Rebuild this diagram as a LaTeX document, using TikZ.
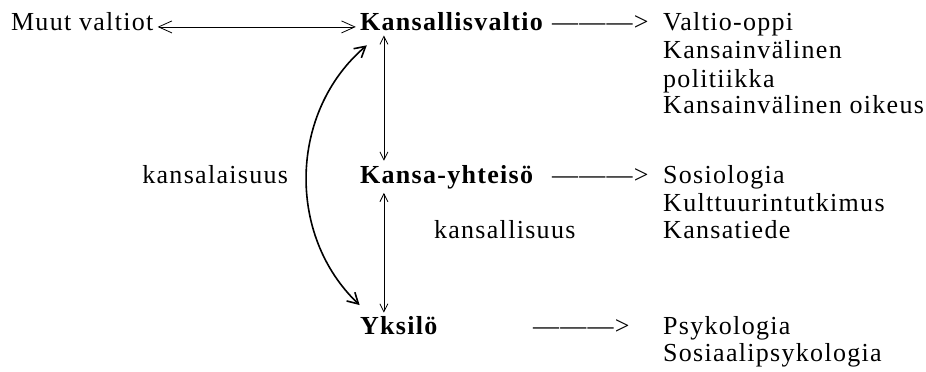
\documentclass[tikz,border=0pt]{standalone}
\usepackage{fontspec}
\setmainfont{Liberation Serif}[LetterSpace=5]
\usepackage{tikz}
\usetikzlibrary{arrows.meta}

\begin{document}
\begin{tikzpicture}
	\tikzstyle{teksti}=[anchor=base west,inner sep=3pt,font=\fontsize{19.5pt}{20pt}\selectfont]
	\tikzstyle{taso}=[teksti,font=\fontsize{19.5pt}{20pt}\selectfont\bfseries]
	\tikzstyle{nuoli}=[line width=0.6pt,{Straight Barb[length=6pt,width=6pt]}-{Straight Barb[length=6pt,width=6pt]}]
	\useasboundingbox (0,0) rectangle (24.41,9.805);
	% tasot
	\node[teksti] (M) at (0.18,8.99){Muut valtiot};
	\node[taso] (V) at (9.38,8.99){Kansallisvaltio};
	\node[taso] (K) at (9.38,4.98){Kansa-yhteisö};
	\node[taso] (Y) at (9.38,0.975){Yksilö};
	\node[teksti] (KL) at (3.64,4.98){kansalaisuus};
	\node[teksti] (KS) at (11.33,3.51){kansallisuus};
	% tieteet
	\node[teksti] (V0) at (14.44,8.99){———>};
	\node[teksti] (V1) at (17.37,8.99){Valtio-oppi};
	\node[teksti] (V2) at (17.37,8.25){Kansainvälinen};
	\node[teksti] (V3) at (17.37,7.51){politiikka};
	\node[teksti] (V4) at (17.37,6.80){Kansainvälinen oikeus};
	\node[teksti] (K0) at (14.44,4.98){———>};
	\node[teksti] (K1) at (17.37,4.98){Sosiologia};
	\node[teksti] (K2) at (17.37,4.24){Kulttuurintutkimus};
	\node[teksti] (K3) at (17.37,3.51){Kansatiede};
	\node[teksti] (Y0) at (13.94,0.975){———>};
	\node[teksti] (Y1) at (17.37,0.975){Psykologia};
	\node[teksti] (Y2) at (17.37,0.264){Sosiaalipsykologia};
	% nuolet
	\draw[nuoli,{Straight Barb[length=10pt,width=9pt]}-{Straight Barb[length=10pt,width=9pt]}] ([yshift=3pt]M.base east) -- ([yshift=3pt]V.base west);
	\draw[nuoli] ([xshift=0.74cm]V.south west) -- ([xshift=0.74cm]K.north west);
	\draw[nuoli] ([xshift=0.74cm]K.south west) -- ([xshift=0.74cm]Y.north west);
	\draw[line width=1.2pt,{Straight Barb[length=8pt,width=9pt]}-{Straight Barb[length=8pt,width=9pt]}] ([shift={(0.29,-0.26)}]V.south west) to[bend right=48] ([shift={(0.1,0.2)}]Y.north west);
\end{tikzpicture}
\end{document}
